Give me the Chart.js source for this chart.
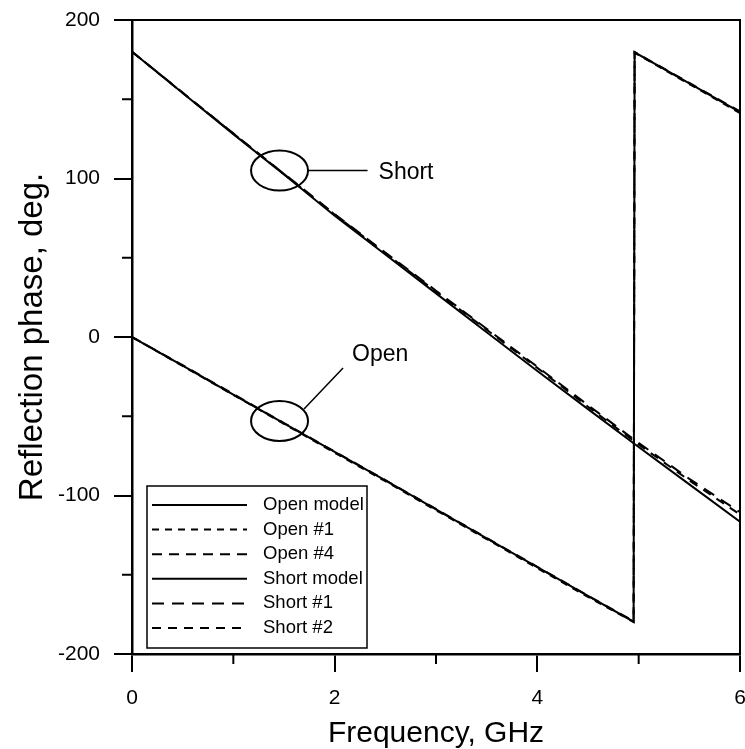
<!DOCTYPE html>
<html>
<head>
<meta charset="utf-8">
<script src="https://cdn.jsdelivr.net/npm/chart.js@4.4.0/dist/chart.umd.min.js"></script>
<style>
  html, body { margin: 0; padding: 0; background: #fff; }
  #wrap { width: 745px; height: 749px; }
</style>
</head>
<body>
<div id="wrap"><canvas id="phaseChart"></canvas></div>
<script>
// frequency grid, GHz (the open curve wraps from -180 to +180 near 4.95 GHz)
const freq = [0, 0.5, 1, 1.5, 2, 2.5, 3, 3.5, 4, 4.5, 4.95, 4.96, 5.5, 6];

// reflection phase, deg.
const openModel  = [0, -18, -36.3, -54.5, -72.5, -90.5, -108.8, -127, -145.2, -163.4, -179.6, 179.6, 160, 141.8];
const open1      = [0, -18.3, -36.5, -54.8, -73, -91, -109.3, -127.5, -145.8, -164, -179.8, 179.3, 159.6, 141.2];
const open4      = [0, -17.8, -36, -54.3, -72.3, -90.3, -108.5, -126.8, -145, -163.2, -179.3, 179.8, 160.3, 142.3];
const shortModel = [180, 154, 128, 102.5, 76.5, 52, 27.5, 3, -21.5, -45.5, -67, -67.5, -93, -116.5];
const short1     = [180, 154.2, 128.5, 103, 77.5, 53.3, 29.2, 5.2, -18.8, -43, -64.5, -65, -89.5, -110.5];
const short2     = [180, 154, 128.3, 102.8, 77.2, 52.8, 28.7, 4.6, -19.5, -44, -65.5, -66, -90.5, -112];

const seriesNames = ["Open model", "Open #1", "Open #4", "Short model", "Short #1", "Short #2"];
const seriesData  = [openModel, open1, open4, shortModel, short1, short2];
const seriesDash  = [[], [7, 6], [10, 7], [], [12, 8], [9, 7]];

const xMajor = [0, 2, 4, 6];
const yMajor = [-200, -100, 0, 100, 200];

// callouts (data units)
const markFreq = 1.456;
const shortMark = 105;
const openMark = -53;

const FONT = "'Liberation Sans', Arial, sans-serif";
Chart.defaults.font.family = FONT;
Chart.defaults.color = "#000";

const datasets = seriesData.map((vals, i) => ({
  label: seriesNames[i],
  data: freq.map((f, k) => ({ x: f, y: vals[k] })),
  borderColor: "#000",
  borderWidth: 2,
  borderDash: seriesDash[i],
  pointRadius: 0,
  showLine: true,
  fill: false,
  tension: 0
}));

const framePlugin = {
  id: "frame",
  afterDraw(chart) {
    const { ctx, chartArea } = chart;
    const xs = chart.scales.x, ys = chart.scales.y;
    ctx.save();
    ctx.strokeStyle = "#000";
    ctx.lineWidth = 2;
    ctx.beginPath();
    ctx.moveTo(chartArea.left, chartArea.top);
    ctx.lineTo(chartArea.right, chartArea.top);
    ctx.lineTo(chartArea.right, chartArea.bottom);
    ctx.stroke();
    // minor ticks
    xs.ticks.forEach(t => {
      if (xMajor.includes(t.value)) return;
      const px = xs.getPixelForValue(t.value);
      ctx.beginPath();
      ctx.moveTo(px, chartArea.bottom);
      ctx.lineTo(px, chartArea.bottom + 10);
      ctx.stroke();
    });
    ys.ticks.forEach(t => {
      if (yMajor.includes(t.value)) return;
      const py = ys.getPixelForValue(t.value);
      ctx.beginPath();
      ctx.moveTo(chartArea.left, py);
      ctx.lineTo(chartArea.left - 10, py);
      ctx.stroke();
    });

    // callout ellipses
    const cx = xs.getPixelForValue(markFreq);
    const cyS = ys.getPixelForValue(shortMark);
    const cyO = ys.getPixelForValue(openMark);
    ctx.lineWidth = 2;
    ctx.beginPath();
    ctx.ellipse(cx, cyS, 28.5, 20, 0, 0, Math.PI * 2);
    ctx.stroke();
    ctx.beginPath();
    ctx.ellipse(cx, cyO, 28.5, 20, 0, 0, Math.PI * 2);
    ctx.stroke();
    ctx.lineWidth = 1.5;
    ctx.beginPath();
    ctx.moveTo(cx + 29, cyS);
    ctx.lineTo(cx + 88, cyS);
    ctx.moveTo(cx + 24.5, cyO - 12);
    ctx.lineTo(cx + 63.5, cyO - 53);
    ctx.stroke();
    ctx.fillStyle = "#000";
    ctx.font = "23px " + FONT;
    ctx.textAlign = "left";
    ctx.textBaseline = "middle";
    ctx.fillText("Short", cx + 99, cyS + 2);
    ctx.fillText("Open", cx + 72.5, cyO - 66);

    // legend box
    const left = chartArea.left + 15, right = left + 220;
    const bottom = chartArea.bottom - 6, top = bottom - 162;
    ctx.fillStyle = "#fff";
    ctx.fillRect(left, top, right - left, bottom - top);
    ctx.strokeStyle = "#000";
    ctx.lineWidth = 1.5;
    ctx.strokeRect(left, top, right - left, bottom - top);
    chart.data.datasets.forEach((ds, i) => {
      const y = top + 19 + i * 24.6;
      ctx.lineWidth = 2;
      ctx.setLineDash(ds.borderDash || []);
      ctx.beginPath();
      ctx.moveTo(left + 5, y);
      ctx.lineTo(left + 100, y);
      ctx.stroke();
      ctx.setLineDash([]);
      ctx.fillStyle = "#000";
      ctx.font = "18.5px " + FONT;
      ctx.fillText(ds.label, left + 116, y);
    });
    ctx.restore();
  }
};

new Chart(document.getElementById("phaseChart"), {
  type: "scatter",
  data: { datasets },
  options: {
    responsive: true,
    maintainAspectRatio: false,
    animation: false,
    layout: { padding: { top: 20, right: 5, left: 0, bottom: 0 } },
    plugins: {
      legend: { display: false },
      tooltip: { enabled: false }
    },
    scales: {
      x: {
        type: "linear",
        min: 0,
        max: 6,
        afterFit(scale) {
          scale.height = 95;
          scale.paddingLeft = 0;
          scale.paddingRight = 0;
        },
        border: { color: "#000", width: 2.5 },
        grid: {
          drawOnChartArea: false,
          tickLength: 18,
          lineWidth: 2,
          tickColor: c => xMajor.includes(c.tick.value) ? "#000" : "rgba(0,0,0,0)"
        },
        ticks: {
          stepSize: 1,
          autoSkip: false,
          maxRotation: 0,
          padding: 14,
          font: { size: 21 },
          callback: v => xMajor.includes(v) ? String(v) : ""
        },
        title: {
          display: true,
          text: "Frequency, GHz",
          font: { size: 30, lineHeight: 1 },
          padding: { top: 0, bottom: 0 }
        }
      },
      y: {
        type: "linear",
        min: -200,
        max: 200,
        afterFit(scale) {
          scale.width = 132;
          scale.paddingTop = 0;
          scale.paddingBottom = 0;
        },
        border: { color: "#000", width: 2.5 },
        grid: {
          drawOnChartArea: false,
          tickLength: 18,
          lineWidth: 2,
          tickColor: c => yMajor.includes(c.tick.value) ? "#000" : "rgba(0,0,0,0)"
        },
        ticks: {
          stepSize: 50,
          autoSkip: false,
          padding: 14,
          font: { size: 21 },
          callback: v => yMajor.includes(v) ? String(v) : ""
        },
        title: {
          display: true,
          text: "Reflection phase, deg.",
          font: { size: 33, lineHeight: 1 },
          padding: { top: 16, bottom: 0 }
        }
      }
    }
  },
  plugins: [framePlugin]
});
</script>
</body>
</html>
